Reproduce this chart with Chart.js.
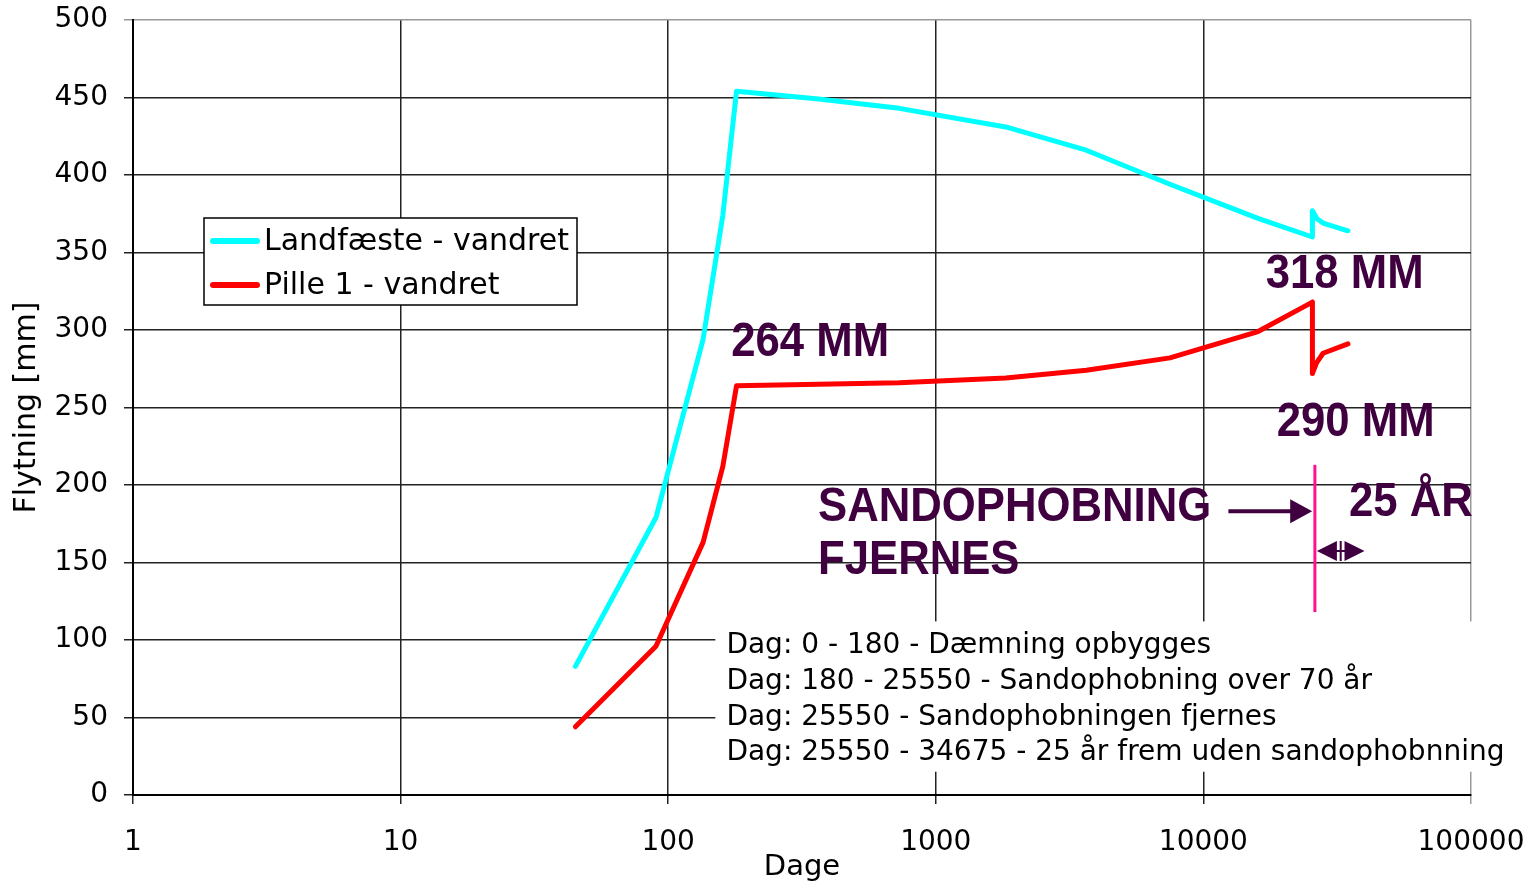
<!DOCTYPE html>
<html>
<head>
<meta charset="utf-8">
<script src="https://cdn.jsdelivr.net/npm/chart.js@4.4.0/dist/chart.umd.min.js"></script>
<style>
  html, body { margin: 0; padding: 0; background: #fff; }
</style>
</head>
<body>
<canvas id="myChart" width="1534" height="885"></canvas>
<script>
// days on a log axis, displacement in mm
const days       = [45, 90, 135, 160, 180, 365, 730, 1825, 3650, 7500, 16000, 25550, 25550, 26500, 28000, 34675];
const landfaeste = [83, 179, 294, 374, 454, 449, 443, 431, 416, 394, 372, 360, 377, 372, 369, 364];
const pille1     = [44, 96, 163, 212, 264, 265, 266, 269, 274, 282, 299, 318, 272, 279, 285, 291];
const xTicks = [1, 10, 100, 1000, 10000, 100000];
const seriesNames = ['Landfæste - vandret', 'Pille 1 - vandret'];
const notes = [
  'Dag: 0 - 180 - Dæmning opbygges',
  'Dag: 180 - 25550 - Sandophobning over 70 år',
  'Dag: 25550 - Sandophobningen fjernes',
  'Dag: 25550 - 34675 - 25 år frem uden sandophobnning'
];

const FONT = '"DejaVu Sans", Verdana, sans-serif';
const BOLD = '"Liberation Sans", Arial, sans-serif';
const PURPLE = '#400040';
const colours = ['#00ffff', '#ff0000'];

Chart.defaults.font.family = FONT;
Chart.defaults.color = '#000';

const ctx = document.getElementById('myChart').getContext('2d');

const overlay = {
  id: 'overlay',
  afterDraw(chart) {
    const { ctx, chartArea: a, scales: { x, y } } = chart;
    ctx.save();

    // notes box
    const bx = x.getPixelForValue(150);
    const by = y.getPixelForValue(112);
    const bb = y.getPixelForValue(15);
    ctx.fillStyle = '#fff';
    ctx.fillRect(bx, by, a.right + 34 - bx, bb - by);
    ctx.fillStyle = '#000';
    ctx.font = '28px ' + FONT;
    ctx.textBaseline = 'middle';
    ctx.textAlign = 'left';
    const tx = x.getPixelForValue(165);
    notes.forEach((t, i) => ctx.fillText(t, tx, y.getPixelForValue(96) + i * 35.6));

    // legend
    const lx = a.left + 71, ly = a.top + 198;
    ctx.fillStyle = '#fff';
    ctx.fillRect(lx, ly, 373, 87);
    ctx.strokeStyle = '#000';
    ctx.lineWidth = 1.5;
    ctx.strokeRect(lx, ly, 373, 87);
    ctx.lineCap = 'round';
    seriesNames.forEach((n, i) => {
      const yy = ly + 23 + i * 44;
      ctx.strokeStyle = colours[i];
      ctx.lineWidth = 6;
      ctx.beginPath();
      ctx.moveTo(lx + 9, yy);
      ctx.lineTo(lx + 53, yy);
      ctx.stroke();
      ctx.fillStyle = '#000';
      ctx.font = '30px ' + FONT;
      ctx.fillText(n, lx + 60, yy + 1);
    });
    ctx.lineCap = 'butt';

    // annotations (tall, slightly narrow bold text)
    ctx.fillStyle = PURPLE;
    ctx.font = 'bold 48px ' + BOLD;
    const lab = (t, dx, v) => {
      ctx.save();
      ctx.translate(x.getPixelForValue(dx), y.getPixelForValue(v));
      ctx.scale(0.91, 1);
      ctx.fillText(t, 0, 0);
      ctx.restore();
    };
    lab('264 MM', 172, 292);
    lab('318 MM', 17100, 335.5);
    lab('290 MM', 18800, 240);
    lab('SANDOPHOBNING', 363, 185);
    lab('FJERNES', 363, 151);
    lab('25 ÅR', 35000, 188.5);

    // arrow to the removal line
    const ay = y.getPixelForValue(183);
    const ax0 = x.getPixelForValue(12400), ax1 = x.getPixelForValue(25500);
    ctx.strokeStyle = PURPLE;
    ctx.lineWidth = 4;
    ctx.beginPath();
    ctx.moveTo(ax0, ay);
    ctx.lineTo(ax1 - 18, ay);
    ctx.stroke();
    ctx.beginPath();
    ctx.moveTo(ax1, ay);
    ctx.lineTo(ax1 - 22, ay - 12);
    ctx.lineTo(ax1 - 22, ay + 12);
    ctx.closePath();
    ctx.fill();

    // pink removal line
    const px = x.getPixelForValue(26100);
    ctx.strokeStyle = '#ff1090';
    ctx.lineWidth = 3;
    ctx.beginPath();
    ctx.moveTo(px, y.getPixelForValue(213));
    ctx.lineTo(px, y.getPixelForValue(118));
    ctx.stroke();

    // double arrow
    const dy = y.getPixelForValue(157.5);
    const d0 = px + 2, d1 = x.getPixelForValue(40000);
    ctx.strokeStyle = PURPLE;
    ctx.lineWidth = 2;
    ctx.beginPath();
    ctx.moveTo(d0 + 10, dy);
    ctx.lineTo(d1 - 10, dy);
    ctx.moveTo((d0 + d1) / 2, dy - 10);
    ctx.lineTo((d0 + d1) / 2, dy + 10);
    ctx.stroke();
    ctx.beginPath();
    ctx.moveTo(d0, dy);
    ctx.lineTo(d0 + 20, dy - 10);
    ctx.lineTo(d0 + 20, dy + 10);
    ctx.closePath();
    ctx.moveTo(d1, dy);
    ctx.lineTo(d1 - 20, dy - 10);
    ctx.lineTo(d1 - 20, dy + 10);
    ctx.closePath();
    ctx.fill();

    ctx.restore();
  }
};

new Chart(ctx, {
  type: 'line',
  data: {
    datasets: [landfaeste, pille1].map((vals, i) => ({
      label: seriesNames[i],
      data: days.map((d, j) => ({ x: d, y: vals[j] })),
      borderColor: colours[i],
      borderWidth: 5,
      pointRadius: 0,
      tension: 0,
      borderCapStyle: 'round',
      borderJoinStyle: 'round'
    }))
  },
  options: {
    responsive: false,
    animation: false,
    layout: { padding: { left: 0, right: 63, top: 20, bottom: 0 } },
    plugins: { legend: { display: false }, tooltip: { enabled: false } },
    scales: {
      x: {
        type: 'logarithmic',
        min: 1,
        max: 100000,
        afterBuildTicks: s => { s.ticks = xTicks.map(v => ({ value: v })); },
        afterFit: s => { s.height = 90; s.paddingLeft = 0; s.paddingRight = 0; },
        ticks: { font: { size: 28 }, color: '#000', padding: 22, maxRotation: 0, autoSkip: false,
                 callback: v => String(v) },
        grid: { color: c => (c.tick && c.tick.value === 100000) ? '#999' : '#222', lineWidth: 1.5, tickLength: 9 },
        border: { color: '#000', width: 2 },
        title: { display: true, text: 'Dage', font: { size: 29 }, color: '#000', padding: { top: 0, bottom: 0 } }
      },
      y: {
        min: 0,
        max: 500,
        afterFit: s => { s.width = 133; s.paddingTop = 0; s.paddingBottom = 0; },
        ticks: { stepSize: 50, font: { size: 28 }, color: '#000', padding: 16 },
        grid: { color: c => (c.tick && c.tick.value === 500) ? '#999' : '#222', lineWidth: 1.5, tickLength: 9 },
        border: { color: '#000', width: 2 },
        title: { display: true, text: 'Flytning [mm]', font: { size: 30 }, color: '#000', padding: { top: 9, bottom: 0 } }
      }
    }
  },
  plugins: [overlay]
});
</script>
</body>
</html>
